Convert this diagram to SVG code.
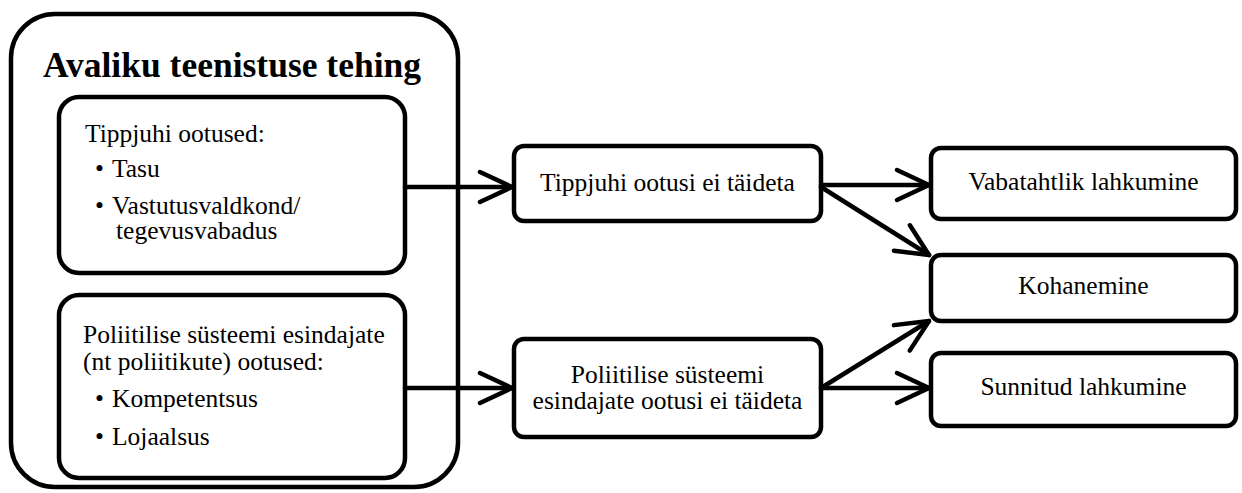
<svg xmlns="http://www.w3.org/2000/svg" width="1242" height="493" viewBox="0 0 1242 493">
<style>
.box{fill:#fff;stroke:#000;stroke-width:4.5}
.t{font-size:25.5px;fill:#000}
.c{text-anchor:middle}
.title{font-size:35.5px;font-weight:bold;fill:#000}
.ln{fill:none;stroke:#000;stroke-width:4.5;stroke-linecap:round}
</style>
<defs>
<marker id="arr" markerUnits="userSpaceOnUse" markerWidth="40" markerHeight="40" viewBox="-36 -20 40 40" refX="0" refY="0" orient="auto" overflow="visible">
<path d="M-32,-15 L0,0 L-32,15" fill="none" stroke="#000" stroke-width="4.5" stroke-linecap="round" stroke-linejoin="round"/>
</marker>
</defs>
<rect width="1242" height="493" fill="#fff"/>
<g font-family="Liberation Serif, Times New Roman, serif">
<g id="outer">
<rect class="box" x="11" y="14" width="447" height="473" rx="44"/>
<text class="title" x="43" y="77" font-family="Liberation Serif">Avaliku teenistuse tehing</text>
</g>
<g id="tippjuhi-ootused">
<rect class="box" x="59" y="97" width="346" height="176" rx="20"/>
<text class="t" x="85" y="142" font-family="Liberation Serif">Tippjuhi ootused:</text>
<text class="t" x="95" y="177" font-family="Liberation Serif">•</text><text class="t" x="112" y="177" font-family="Liberation Serif">Tasu</text>
<text class="t" x="95" y="214" font-family="Liberation Serif">•</text><text class="t" x="112" y="214" font-family="Liberation Serif">Vastutusvaldkond/</text>
<text class="t" x="116" y="239" font-family="Liberation Serif">tegevusvabadus</text>
</g>
<g id="poliitikute-ootused">
<rect class="box" x="59" y="295" width="346" height="183" rx="20"/>
<text class="t" x="83" y="343" font-family="Liberation Serif">Poliitilise süsteemi esindajate</text>
<text class="t" x="83" y="370" font-family="Liberation Serif">(nt poliitikute) ootused:</text>
<text class="t" x="95" y="407" font-family="Liberation Serif">•</text><text class="t" x="112" y="407" font-family="Liberation Serif">Kompetentsus</text>
<text class="t" x="95" y="445" font-family="Liberation Serif">•</text><text class="t" x="112" y="445" font-family="Liberation Serif">Lojaalsus</text>
</g>
<g id="tippjuhi-ei-taideta">
<rect class="box" x="514" y="146" width="307" height="75" rx="10"/>
<text class="t c" x="667.5" y="191" font-family="Liberation Serif">Tippjuhi ootusi ei täideta</text>
</g>
<g id="poliitikute-ei-taideta">
<rect class="box" x="514" y="339" width="307" height="98" rx="10"/>
<text class="t c" x="667.5" y="383" font-family="Liberation Serif">Poliitilise süsteemi</text>
<text class="t c" x="667.5" y="409" font-family="Liberation Serif">esindajate ootusi ei täideta</text>
</g>
<g id="vabatahtlik">
<rect class="box" x="931" y="148" width="305" height="71" rx="10"/>
<text class="t c" x="1083.5" y="190" font-family="Liberation Serif">Vabatahtlik lahkumine</text>
</g>
<g id="kohanemine">
<rect class="box" x="931" y="255" width="305" height="66" rx="10"/>
<text class="t c" x="1083.5" y="294" font-family="Liberation Serif">Kohanemine</text>
</g>
<g id="sunnitud">
<rect class="box" x="931" y="353" width="305" height="73" rx="10"/>
<text class="t c" x="1083.5" y="395" font-family="Liberation Serif">Sunnitud lahkumine</text>
</g>
</g>
<g id="connectors">
<line class="ln" x1="405" y1="187" x2="512" y2="187" marker-end="url(#arr)"/>
<line class="ln" x1="405" y1="388" x2="512" y2="388" marker-end="url(#arr)"/>
<line class="ln" x1="821" y1="185" x2="929" y2="185" marker-end="url(#arr)"/>
<line class="ln" x1="821" y1="187" x2="929" y2="255" marker-end="url(#arr)"/>
<line class="ln" x1="821" y1="388" x2="929" y2="321" marker-end="url(#arr)"/>
<line class="ln" x1="821" y1="388" x2="929" y2="388" marker-end="url(#arr)"/>
</g>
</svg>
